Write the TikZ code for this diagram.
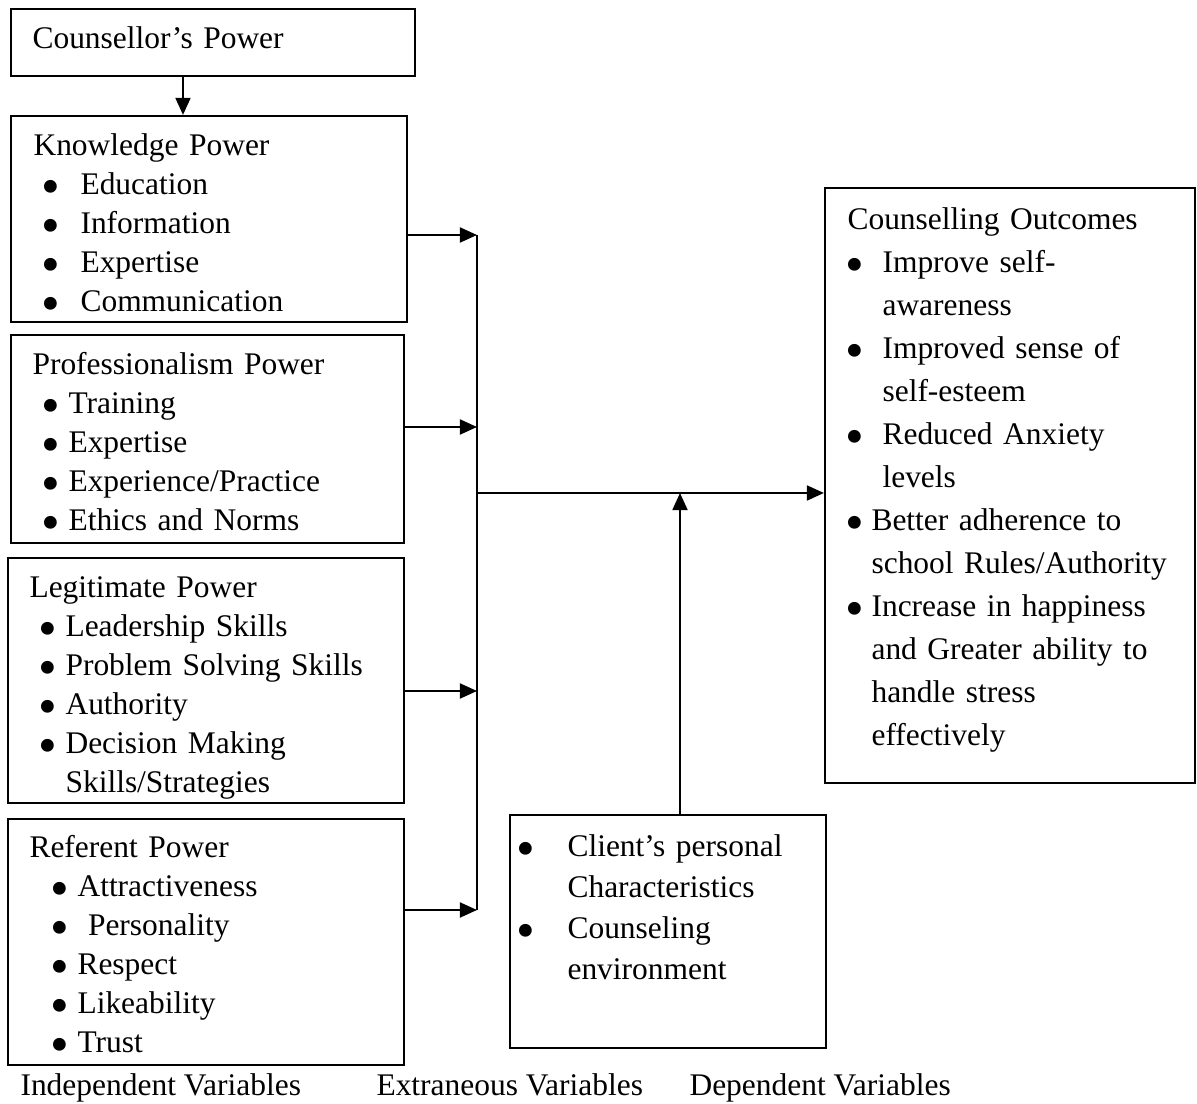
\documentclass[tikz,border=0pt]{standalone}
\usepackage{fontspec}
\setmainfont{Liberation Serif}
\usetikzlibrary{arrows.meta,positioning,calc,fit}
\newlength{\px}
\setlength{\px}{0.375pt}
\newcommand{\dotb}{\smash{\raisebox{-3.6pt}{\scalebox{1.7}{•}}}}
\newcommand{\bul}[2]{\hspace*{#1\px}\makebox[#2\px][l]{\hspace*{-2\px}\dotb}}
\tikzset{
  box/.style={draw=black,line width=.8pt,inner sep=0pt},
  txt/.style={anchor=base west,inner sep=0pt,text width=150pt,align=left,font=\fontsize{11.8}{14.625}\selectfont},
  txtex/.style={txt,font=\fontsize{11.8}{15.375}\selectfont},
  txtout/.style={txt,font=\fontsize{11.8}{16.125}\selectfont},
  lbl/.style={anchor=base west,inner sep=0pt,font=\fontsize{11.8}{14}\selectfont},
  arr/.style={-{Triangle[length=6.4pt,width=5.6pt]},line width=.8pt},
  bus/.style={line width=.8pt},
}
\begin{document}
\begin{tikzpicture}[x=0.375pt,y=-0.375pt]
    \useasboundingbox (0,0) rectangle (1197,1104);

    \node[box,fit={(11,9)(415,76)}] (cpow) {};
    \node[box,fit={(11,116)(407,322)}] (know) {};
    \node[box,fit={(11,335)(404,543)}] (prof) {};
    \node[box,fit={(8,558)(404,803)}] (legit) {};
    \node[box,fit={(8,819)(404,1065)}] (refr) {};
    \node[box,fit={(510,815)(826,1048)}] (extr) {};
    \node[box,fit={(825,188)(1195,783)}] (outc) {};

    \node[txt] (cpowtxt) at (32,49) {Counsellor’s Power};
    \node[txt] (knowtxt) at (33,156) {Knowledge Power\\
      \bul{10}{37}Education\\
      \bul{10}{37}Information\\
      \bul{10}{37}Expertise\\
      \bul{10}{37}Communication};
    \node[txt] (proftxt) at (32,375) {Professionalism Power\\
      \bul{11}{25}Training\\
      \bul{11}{25}Expertise\\
      \bul{11}{25}Experience/Practice\\
      \bul{11}{25}Ethics and Norms};
    \node[txt] (legittxt) at (29,598) {Legitimate Power\\
      \bul{11}{25}Leadership Skills\\
      \bul{11}{25}Problem Solving Skills\\
      \bul{11}{25}Authority\\
      \bul{11}{25}Decision Making\\
      \hspace*{36\px}Skills/Strategies};
    \node[txt] (refrtxt) at (29,858) {Referent Power\\
      \bul{23}{25}Attractiveness\\
      \bul{23}{25}\ Personality\\
      \bul{23}{25}Respect\\
      \bul{23}{25}Likeability\\
      \bul{23}{25}Trust};
    \node[txtex] (extrtxt) at (518,857) {\bul{0}{49}Client’s personal\\
      \hspace*{49\px}Characteristics\\
      \bul{0}{49}Counseling\\
      \hspace*{49\px}environment};
    \node[txtout] (outctxt) at (847,230) {Counselling Outcomes\\
      \bul{0}{35}Improve self-\\
      \hspace*{35\px}awareness\\
      \bul{0}{35}Improved sense of\\
      \hspace*{35\px}self-esteem\\
      \bul{0}{35}Reduced Anxiety\\
      \hspace*{35\px}levels\\
      \bul{0}{24}Better adherence to\\
      \hspace*{24\px}school Rules/Authority\\
      \bul{0}{24}Increase in happiness\\
      \hspace*{24\px}and Greater ability to\\
      \hspace*{24\px}handle stress\\
      \hspace*{24\px}effectively};

    \node[lbl] (indep) at (20,1095) {Independent Variables};
    \node[lbl] (extra) at (376,1095) {Extraneous Variables};
    \node[lbl] (dep) at (689,1095) {Dependent Variables};

    \coordinate (cdown) at (183,0);
    \coordinate (b1) at (477,235);
    \coordinate (b2) at (477,427);
    \coordinate (b3) at (477,691);
    \coordinate (b4) at (477,910);
    \coordinate (bj) at (477,493);
    \coordinate (ex) at (680,493);

    \draw[arr] (cdown |- cpow.south) -- (cdown |- know.north);
    \draw[arr] (b1 -| know.east) -- (b1);
    \draw[arr] (b2 -| prof.east) -- (b2);
    \draw[arr] (b3 -| legit.east) -- (b3);
    \draw[arr] (b4 -| refr.east) -- (b4);
    \draw[bus] (b1) -- (b4);
    \draw[arr] (bj) -- (bj -| outc.west);
    \draw[arr] (ex |- extr.north) -- (ex);
  \end{tikzpicture}
\end{document}
